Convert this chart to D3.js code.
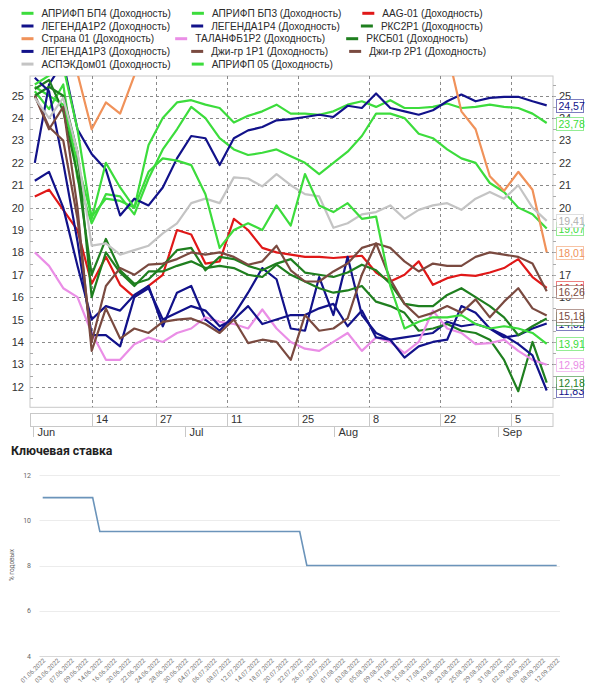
<!DOCTYPE html>
<html><head><meta charset="utf-8">
<script src="https://cdn.jsdelivr.net/npm/d3@7"></script>
<style>body{margin:0;background:#fff}svg{display:block}</style>
</head><body>
<svg id="c" width="590" height="692"></svg>
<script>
// ---------- DATA ----------
// sampled dates (every other trading day) – same dates as bottom chart labels
const dates = ['01.06.2022','03.06.2022','07.06.2022','09.06.2022','14.06.2022','16.06.2022','20.06.2022','22.06.2022','24.06.2022','28.06.2022','30.06.2022',
'04.07.2022','06.07.2022','08.07.2022','12.07.2022','14.07.2022','18.07.2022','20.07.2022','22.07.2022','26.07.2022','28.07.2022',
'01.08.2022','03.08.2022','05.08.2022','09.08.2022','11.08.2022','15.08.2022','17.08.2022','19.08.2022','23.08.2022','25.08.2022','29.08.2022','31.08.2022',
'02.09.2022','06.09.2022','08.09.2022','12.09.2022'];
const holidays = ['13.06.2022'];
const seriesNames = ['АПРИФП БП4','АПРИФП БП3','AAG-01','ЛЕГЕНДА1Р2','ЛЕГЕНДА1Р4','РКС2Р1','Страна 01','ТАЛАНФБ1Р2','РКСБ01','ЛЕГЕНДА1Р3','Джи-гр 1Р1','Джи-гр 2Р1','АСПЭКДом01','АПРИФП 05'];
const aprBP4   = [25.4,25.0,24.6,22.0,19.6,20.4,20.3,20.0,22.8,24.0,24.7,24.8,24.6,24.45,23.8,24.1,24.3,24.6,24.2,24.2,24.15,24.3,24.6,24.75,24.5,24.8,24.45,24.45,24.5,24.65,24.45,24.5,24.6,24.5,24.45,24.2,23.78];
const aprBP3   = [25.2,24.4,25.5,21.3,19.3,20.6,20.5,19.7,21.3,22.6,23.5,24.5,24.0,23.1,22.6,22.35,22.45,22.6,22.3,22.0,21.5,22.0,22.5,23.2,24.2,24.2,24.0,23.3,23.1,22.6,22.2,22.0,21.1,20.7,20.0,19.7,19.07];
const aag01    = [20.5,20.8,19.9,19.0,16.6,17.8,16.55,16.0,16.5,17.0,19.0,18.8,17.5,17.6,19.5,19.0,18.2,18.0,17.9,17.8,17.8,17.75,17.8,17.85,17.1,16.7,17.0,17.6,16.55,16.85,17.0,16.95,17.1,17.3,17.7,16.9,16.41];
const legR2    = [22.0,25.5,26.5,23.5,22.4,21.7,19.65,20.4,20.1,20.9,22.2,23.2,23.1,21.9,23.1,23.45,23.6,23.9,23.95,24.05,24.15,24.05,24.55,24.45,25.1,24.45,24.3,24.15,24.35,24.75,25.05,24.75,24.9,24.95,24.95,24.75,24.57];
const legR4    = [21.2,21.6,20.0,17.4,15.0,15.6,15.4,16.1,16.5,14.7,16.2,16.5,15.0,14.5,15.2,16.2,17.3,16.8,14.6,14.5,16.9,15.2,17.8,15.2,14.4,14.1,14.2,14.3,14.4,14.9,14.7,14.8,14.6,14.2,14.3,14.6,14.82];
const rks2R1   = [25.0,25.4,25.0,22.5,16.0,18.0,17.1,16.5,17.15,17.15,17.4,17.6,17.3,17.4,17.3,17.0,16.9,17.45,17.0,16.7,16.4,16.2,16.3,16.5,15.8,15.6,15.3,14.5,14.6,14.8,14.5,14.4,14.1,13.2,11.8,14.0,12.18];
const strana01 = [26.9,27.2,26.8,26.0,23.5,24.7,24.2,25.9,27.0,27.5,27.8,28.0,28.2,28.0,28.3,28.5,28.4,28.6,28.5,28.8,28.7,28.9,29.0,28.8,29.1,29.0,28.8,28.6,28.0,27.0,24.3,23.5,21.4,20.75,21.6,20.8,18.01];
const talan    = [18.0,17.4,16.4,16.0,14.4,13.2,13.2,13.9,14.2,14.0,14.4,14.6,15.1,14.9,14.8,14.6,15.45,14.6,14.0,13.7,13.6,14.0,14.4,13.6,14.2,14.0,13.5,14.0,15.4,14.6,14.4,13.9,13.95,14.1,13.6,13.2,12.98];
const rksB01   = [25.3,25.7,24.3,21.5,17.0,18.6,17.2,16.6,16.8,17.4,18.1,18.2,17.2,17.8,17.7,17.4,17.2,17.5,17.7,17.1,17.0,16.9,17.1,17.45,17.2,16.6,15.7,15.6,15.6,16.1,16.4,16.0,15.6,15.1,14.3,14.7,15.05];
const legR3    = [25.8,25.2,22.0,18.5,14.3,14.3,13.8,16.0,16.4,15.0,15.3,15.6,15.4,14.7,15.0,15.6,14.8,15.0,15.2,15.2,15.5,15.7,14.7,15.4,14.2,14.1,13.3,13.8,14.0,14.1,15.6,15.3,14.6,14.3,13.9,13.4,11.83];
const dzhi1R1  = [25.0,23.5,24.5,20.0,13.6,15.5,14.15,14.6,14.4,14.9,15.0,15.05,14.8,14.4,15.0,13.95,14.1,14.0,13.2,15.2,14.5,14.6,15.05,17.0,18.4,16.8,15.7,15.1,15.3,15.6,15.3,15.9,15.1,15.8,16.4,15.5,15.18];
const dzhi2R1  = [25.0,23.6,23.0,19.5,14.0,16.5,17.3,17.0,17.45,17.5,17.7,18.0,17.9,18.0,17.8,17.45,17.6,18.3,17.2,16.7,16.7,17.15,17.5,18.2,18.4,18.2,17.6,17.15,17.5,17.4,17.4,17.8,18.0,17.9,17.8,17.5,16.26];
const aspek01  = [24.9,24.0,24.9,22.5,18.3,18.4,17.9,18.1,18.3,18.85,19.3,20.2,20.4,20.2,21.35,21.3,20.95,21.5,21.0,20.6,20.5,19.1,19.3,19.7,19.8,20.1,19.5,19.9,20.1,20.2,19.9,20.4,20.7,20.4,21.0,20.0,19.41];
const apr05    = [25.5,25.9,26.3,23.5,19.5,22.0,20.9,20.0,21.6,22.2,22.1,21.9,20.6,18.2,19.0,19.3,19.0,20.1,19.2,21.5,20.1,19.8,20.2,19.5,19.6,16.5,14.6,14.9,15.1,15.1,15.2,14.8,14.6,14.7,14.6,14.4,13.91];
const topTickDates = ['14.06.2022','27.06.2022','11.07.2022','25.07.2022','08.08.2022','22.08.2022','05.09.2022'];
const monthStarts = ['01.06.2022','01.07.2022','01.08.2022','01.09.2022'];
const monthLabels = ['Jun','Jul','Aug','Sep'];
const yTicksTop = [12,13,14,15,16,17,18,19,20,21,22,23,24,25];
// key rate, one value per trading day (01.06.2022 – 12.09.2022)
const keyRate = [11,11,11,11,11,11,11,11,
9.5,9.5,9.5,9.5,9.5,9.5,9.5,9.5,9.5,9.5,
9.5,9.5,9.5,9.5,9.5,9.5,9.5,9.5,9.5,9.5,
9.5,9.5,9.5,9.5,9.5,9.5,9.5,9.5,9.5,
8,8,8,8,8,8,8,8,8,8,
8,8,8,8,8,8,8,8,8,8,
8,8,8,8,8,8,8,8,8,8,
8,8,8,8,8,8];
const yTicksBottom = [4,6,8,10,12];
const titleBottom = 'Ключевая ставка';
const yTitleBottom = '% годовых';
const suffix = ' (Доходность)';

// ---------- STYLE ----------
const palette = ['#3cdc3c','#3cdc3c','#e01818','#12128a','#12128a','#1f7f1f','#f0925a','#ea8ee6','#1f7f1f','#12128a','#7a4a40','#7a4a40','#c4c4c4','#3cdc3c'];
const legendRows = [[0,1,2],[3,4,5],[6,7,8],[9,10,11],[12,13]];
const FONT = 'Liberation Sans, Arial, sans-serif';

// ---------- BUILD ----------
const fmt = d3.timeFormat('%d.%m.%Y');
const tradingDays = d3.timeDay.range(new Date(2022,5,1), new Date(2022,8,13))
  .filter(d => d.getDay() !== 0 && d.getDay() !== 6).map(fmt).filter(s => !holidays.includes(s));
const idx = new Map(tradingDays.map((d,i)=>[d,i]));
const valuesList = [aprBP4,aprBP3,aag01,legR2,legR4,rks2R1,strana01,talan,rksB01,legR3,dzhi1R1,dzhi2R1,aspek01,apr05];
const series = seriesNames.map((n,i)=>({name:n, values:valuesList[i], color:palette[i]}));

const svg = d3.select('#c');
svg.append('rect').attr('width',590).attr('height',692).attr('fill','#fff');

// legend
legendRows.forEach((row,r)=>{
  let x = 21.5;
  const yc = 13.3 + r*12.7;
  row.forEach(i=>{
    const s = series[i];
    svg.append('line').attr('x1',x).attr('x2',x+12).attr('y1',yc).attr('y2',yc)
      .attr('stroke',s.color).attr('stroke-width',3);
    const t = svg.append('text').attr('x',x+20).attr('y',yc+3.5).attr('font-family',FONT)
      .attr('font-size',10.1).attr('fill','#2a2a2a').text(s.name+suffix);
    x = x + 20 + t.node().getComputedTextLength() + 21;
  });
});

const P = {l:30, r:553, t:76, b:407.3};
const xTop = d3.scaleLinear().domain([0,tradingDays.length-1]).range([34.8,546.7]);
const yTop = d3.scaleLinear().domain([11.08,25.88]).range([P.b,P.t]);

svg.append('rect').attr('x',P.l).attr('y',P.t).attr('width',P.r-P.l).attr('height',P.b-P.t)
  .attr('fill','#fff').attr('stroke','#c8c8c8');
const grid = svg.append('g').attr('stroke','#8a8a8a').attr('stroke-dasharray','3,3').attr('stroke-width',1);
yTicksTop.forEach(v=>{
  grid.append('line').attr('x1',P.l).attr('x2',P.r).attr('y1',Math.round(yTop(v))+0.5).attr('y2',Math.round(yTop(v))+0.5);
});
topTickDates.forEach(d=>{
  const x = Math.round(xTop(idx.get(d)))+0.5;
  grid.append('line').attr('x1',x).attr('x2',x).attr('y1',P.t).attr('y2',P.b);
});
// minor ticks on both sides
d3.range(11.5,25.9,0.5).forEach(v=>{
  const y = Math.round(yTop(v))+0.5;
  svg.append('line').attr('x1',P.l).attr('x2',P.l+3).attr('y1',y).attr('y2',y).attr('stroke','#aaa');
  svg.append('line').attr('x1',P.r).attr('x2',P.r+3).attr('y1',y).attr('y2',y).attr('stroke','#aaa');
});
const lastVals = series.map(s=>s.values[s.values.length-1]);
// y labels (right-side labels hidden under a value tag are not drawn, as in the reference)
yTicksTop.forEach(v=>{
  svg.append('text').attr('x',24).attr('y',yTop(v)+4).attr('text-anchor','end')
    .attr('font-family',FONT).attr('font-size',11).attr('fill','#333').text(v);
  const covered = lastVals.some(lv=>Math.abs(yTop(lv)-yTop(v))<4.5);
  if(!covered){
    svg.append('text').attr('x',559).attr('y',yTop(v)+4)
      .attr('font-family',FONT).attr('font-size',11).attr('fill','#333').text(v);
  }
});

// lines
svg.append('clipPath').attr('id','clip').append('rect').attr('x',P.l).attr('y',P.t).attr('width',P.r-P.l).attr('height',P.b-P.t);
const line = d3.line().x((v,k)=>xTop(idx.get(dates[k]))).y(v=>yTop(v));
const lg = svg.append('g').attr('clip-path','url(#clip)');
series.forEach(s=>{
  lg.append('path').attr('d',line(s.values)).attr('fill','none').attr('stroke',s.color)
    .attr('stroke-width',2.2).attr('stroke-linejoin','round');
});

// last-value tags
const order = series.slice().sort((a,b)=>a.values[a.values.length-1]-b.values[b.values.length-1]);
const ai = order.findIndex(s=>s.name==='AAG-01');
const aagS = order.splice(ai,1)[0]; order.unshift(aagS);
order.forEach(s=>{
  const v = s.values[s.values.length-1];
  const y = yTop(v);
  svg.append('rect').attr('x',556.5).attr('y',Math.round(y-6.5)+0.5).attr('width',27).attr('height',13)
    .attr('fill','#fff').attr('stroke',s.color).attr('stroke-opacity',0.55);
  svg.append('text').attr('x',558.5).attr('y',Math.round(y-6.5)+10.5).attr('font-family',FONT)
    .attr('font-size',10.5).attr('fill',s.color==='#c4c4c4'?'#b0b0b0':s.color).text(d3.format('.2f')(v).replace('.',','));
});

// x axis boxes
const ax = svg.append('g');
ax.append('rect').attr('x',30.5).attr('y',413.5).attr('width',522.5).attr('height',13).attr('fill','#fff').attr('stroke','#c8c8c8');
topTickDates.forEach(d=>{
  const x = Math.round(xTop(idx.get(d)))+0.5;
  ax.append('line').attr('x1',x).attr('x2',x).attr('y1',413.5).attr('y2',426.5).attr('stroke','#c8c8c8');
  ax.append('text').attr('x',x+3.5).attr('y',423).attr('font-family',FONT).attr('font-size',11).attr('fill','#333')
    .text(+d.slice(0,2));
});
monthStarts.forEach((d,i)=>{
  const x = i===0 ? 33.5 : Math.round(xTop(idx.get(d)))+1.5;
  ax.append('line').attr('x1',x).attr('x2',x).attr('y1',426.5).attr('y2',437).attr('stroke','#c8c8c8');
  ax.append('text').attr('x',x+4).attr('y',436).attr('font-family',FONT).attr('font-size',11).attr('fill','#333')
    .text(monthLabels[i]);
});

// ---------- BOTTOM CHART ----------
const BF = 'Roboto, Arial, sans-serif';
svg.append('text').attr('x',11).attr('y',454.5).attr('font-family',BF).attr('font-weight','bold')
  .attr('font-size',12.3).attr('fill','#222').text(titleBottom);
const xBot = d3.scaleLinear().domain([0,tradingDays.length-1]).range([42.7,556.7]);
const yBot = d3.scaleLinear().domain([4,12]).range([656,475]);
yTicksBottom.forEach(v=>{
  svg.append('line').attr('x1',39.5).attr('x2',560).attr('y1',Math.round(yBot(v))+0.5).attr('y2',Math.round(yBot(v))+0.5)
    .attr('stroke',v===4?'#d8d8d8':'#ececec');
  svg.append('text').attr('x',31).attr('y',yBot(v)+2.5).attr('text-anchor','end').attr('font-family',BF)
    .attr('font-size',7).attr('fill','#666').text(v);
});
svg.append('text').attr('transform','translate(14,565) rotate(-90)').attr('text-anchor','middle')
  .attr('font-family',BF).attr('font-size',6.5).attr('fill','#666').text(yTitleBottom);
svg.append('path').attr('d',d3.line().x((v,i)=>xBot(i)).y(v=>yBot(v))(keyRate))
  .attr('fill','none').attr('stroke','#6b94ba').attr('stroke-width',1.6);
dates.forEach(d=>{
  const x = xBot(idx.get(d));
  svg.append('text').attr('transform',`translate(${x+3},${661}) rotate(-45)`).attr('text-anchor','end')
    .attr('font-family',BF).attr('font-size',6.3).attr('fill','#777').text(d);
});
</script>
</body></html>
